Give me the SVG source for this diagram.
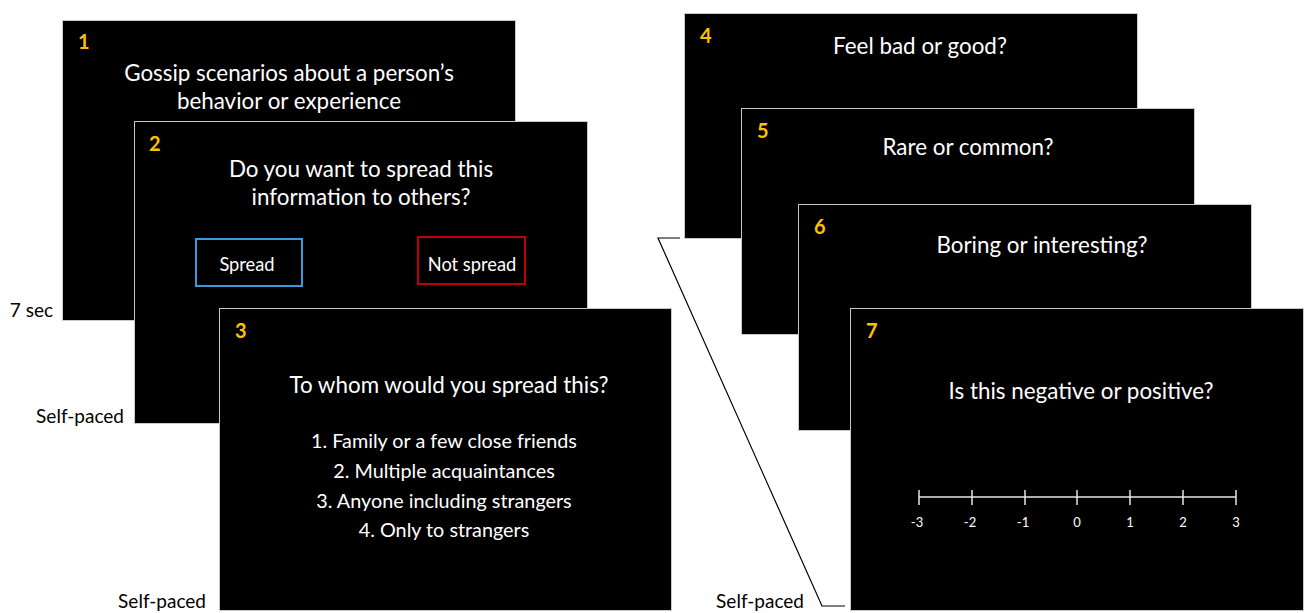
<svg xmlns="http://www.w3.org/2000/svg" width="1307" height="613" viewBox="0 0 1307 613">
<style>
.slide{fill:#000;stroke:#c8c8c8;stroke-width:1}
.num{font-family:Lato,"Liberation Sans",sans-serif;font-weight:bold;font-size:20px;fill:#FFC000}
.q{font-family:Lato,"Liberation Sans",sans-serif;font-size:22.4px;fill:#fff;text-anchor:middle}
.li{font-family:Lato,"Liberation Sans",sans-serif;font-size:19.8px;fill:#fff;text-anchor:middle}
.btn{font-family:Lato,"Liberation Sans",sans-serif;font-size:18.3px;fill:#fff;text-anchor:middle}
.lab{font-family:Lato,"Liberation Sans",sans-serif;font-size:19px;fill:#000;text-anchor:end}
.sc{font-family:Lato,"Liberation Sans",sans-serif;font-size:13px;fill:#fff;text-anchor:middle}
.tick{stroke:#e6e6e6;stroke-width:1.5;fill:none}
.conn{stroke:#000;stroke-width:1.2;fill:none}
</style>
<rect width="1307" height="613" fill="#fff"/>
<g id="labels">
<text class="lab" x="53" y="317">7 sec</text>
<text class="lab" x="124" y="423">Self-paced</text>
<text class="lab" x="206" y="608">Self-paced</text>
<text class="lab" x="804" y="608">Self-paced</text>
</g>
<g id="connectors">
<polyline class="conn" points="680,238 658,238 822,606 845,606"/>
</g>
<g id="slide1">
<rect class="slide" x="62.5" y="20.5" width="453" height="300"/>
<text class="num" x="78" y="49">1</text>
<text class="q" x="289" y="81">Gossip scenarios about a person’s</text>
<text class="q" x="289" y="109">behavior or experience</text>
</g>
<g id="slide2">
<rect class="slide" x="134.5" y="121.5" width="453" height="302"/>
<text class="num" x="149" y="151">2</text>
<text class="q" x="361" y="177">Do you want to spread this</text>
<text class="q" x="361" y="205">information to others?</text>
<rect x="196" y="239" width="106" height="47" fill="none" stroke="#3a9ad9" stroke-width="2"/>
<text class="btn" x="247" y="271">Spread</text>
<rect x="418" y="237" width="107" height="47" fill="none" stroke="#c00000" stroke-width="2"/>
<text class="btn" x="472" y="271">Not spread</text>
</g>
<g id="slide3">
<rect class="slide" x="219.5" y="308.5" width="452" height="302"/>
<text class="num" x="235" y="338">3</text>
<text class="q" x="449" y="393">To whom would you spread this?</text>
<text class="li" x="444" y="448">1. Family or a few close friends</text>
<text class="li" x="444" y="478">2. Multiple acquaintances</text>
<text class="li" x="444" y="508">3. Anyone including strangers</text>
<text class="li" x="444" y="537">4. Only to strangers</text>
</g>
<g id="slide4">
<rect class="slide" x="684.5" y="13.5" width="453" height="225"/>
<text class="num" x="700" y="43">4</text>
<text class="q" x="920" y="54">Feel bad or good?</text>
</g>
<g id="slide5">
<rect class="slide" x="741.5" y="108.5" width="453" height="226"/>
<text class="num" x="757" y="138">5</text>
<text class="q" x="968" y="155">Rare or common?</text>
</g>
<g id="slide6">
<rect class="slide" x="798.5" y="204.5" width="453" height="226"/>
<text class="num" x="814" y="234">6</text>
<text class="q" x="1042" y="253">Boring or interesting?</text>
</g>
<g id="slide7">
<rect class="slide" x="850.5" y="308.5" width="453" height="302"/>
<text class="num" x="866" y="338">7</text>
<text class="q" x="1081" y="399">Is this negative or positive?</text>
<path class="tick" d="M919,497H1236M919,490V505M972,490V505M1025,490V505M1077,490V505M1130,490V505M1183,490V505M1236,490V505"/>
<text class="sc" x="917" y="527">-3</text>
<text class="sc" x="970" y="527">-2</text>
<text class="sc" x="1023" y="527">-1</text>
<text class="sc" x="1077" y="527">0</text>
<text class="sc" x="1130" y="527">1</text>
<text class="sc" x="1183" y="527">2</text>
<text class="sc" x="1236" y="527">3</text>
</g>
</svg>
